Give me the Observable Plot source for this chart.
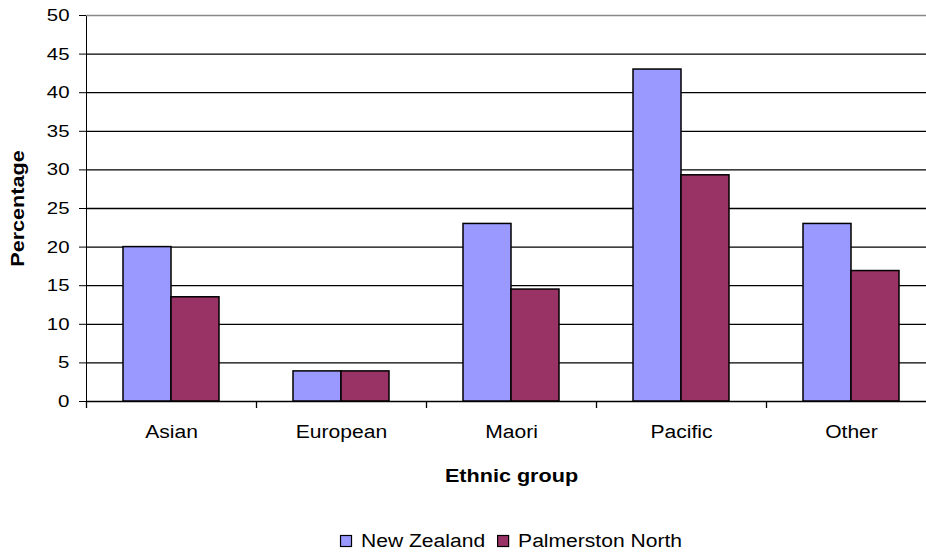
<!DOCTYPE html>
<html><head><meta charset="utf-8">
<script src="https://cdn.jsdelivr.net/npm/d3@7"></script>
<script src="https://cdn.jsdelivr.net/npm/@observablehq/plot@0.6"></script>
<style>
body{margin:0;background:#fff;font-family:"Liberation Sans",Arial,sans-serif;}
#wrap{position:relative;width:926px;height:552px;overflow:hidden;}
#legend{position:absolute;left:0;top:520px;}
</style></head><body><div id="wrap"><div id="chart"></div><div id="legend"></div></div>
<script>
const categories = ["Asian", "European", "Maori", "Pacific", "Other"];
const series = ["New Zealand", "Palmerston North"];
const newZealand = [20, 3.9, 23, 43, 23];
const palmerstonNorth = [13.5, 3.9, 14.5, 29.3, 16.9];
const yTicks = [0, 5, 10, 15, 20, 25, 30, 35, 40, 45, 50];
const colors = ["#9999ff", "#993366"];

const data = categories.flatMap((c, i) => [
  {category: c, series: series[0], value: newZealand[i]},
  {category: c, series: series[1], value: palmerstonNorth[i]}
]);

const width = 936, marginLeft = 86, marginRight = 0;
const step = (width - marginLeft - marginRight) / categories.length;

const chart = Plot.plot({
  width, height: 520, marginLeft, marginRight, marginTop: 15, marginBottom: 119,
  style: {fontFamily: "Liberation Sans, Arial, sans-serif", fontSize: "17px", color: "#000", background: "#fff"},
  fx: {domain: categories, padding: 0, label: "Ethnic group", labelArrow: "none", labelAnchor: "center", labelOffset: 80, tickSize: 0, tickPadding: 24},
  x: {domain: series, paddingInner: 0, paddingOuter: 0.735, axis: null},
  y: {domain: [0, 50], ticks: yTicks, tickSize: 7, tickPadding: 10, label: "Percentage", labelArrow: "none", labelAnchor: "center", labelOffset: 75, line: true},
  color: {domain: series, range: colors},
  marks: [
    Plot.ruleY(yTicks.filter(t => t < 50), {stroke: "#000", strokeWidth: 1.3}),
    Plot.ruleY([50], {stroke: "#888", strokeWidth: 1.3}),
    Plot.barY(data, {fx: "category", x: "series", y: "value", fill: "series", stroke: "#000", strokeWidth: 1.5}),
    Plot.ruleX([0], {x: null, dx: -step / 2, y1: 0, y2: 0, insetBottom: -7, stroke: "#000", strokeWidth: 1.3})
  ]
});
chart.style.maxWidth = "none";
document.getElementById("chart").appendChild(chart);

function stretch(t, size, k, bold) {
  t.style.fontSize = size + "px";
  if (bold) t.style.fontWeight = "bold";
  const L = t.getComputedTextLength();
  t.setAttribute("textLength", (L * k).toFixed(1));
  t.setAttribute("lengthAdjust", "spacingAndGlyphs");
}
chart.querySelectorAll("text").forEach(t => {
  const s = t.textContent.trim();
  if (categories.includes(s)) stretch(t, 18, 1.17, false);
  else if (s === "Percentage" || s === "Ethnic group") stretch(t, 18, 1.2, true);
  else stretch(t, 17, 1.2, false);
});

// legend
const lg = d3.select("#legend").append("svg").attr("width", 926).attr("height", 32)
  .style("font-family", "Liberation Sans, Arial, sans-serif").style("font-size", "18px");
const items = lg.selectAll("g").data(series).join("g");
items.append("rect").attr("width", 11).attr("height", 11).attr("y", 15.5)
  .attr("fill", (d, i) => colors[i]).attr("stroke", "#000").attr("stroke-width", 1.2);
items.append("text").attr("y", 27).attr("fill", "#000").text(d => d)
  .each(function() { const L = this.getComputedTextLength(); this.setAttribute("textLength", (L * 1.17).toFixed(1)); this.setAttribute("lengthAdjust", "spacingAndGlyphs"); this.__w = L * 1.17; });
let widths = [];
items.each(function() { widths.push(d3.select(this).select("text").node().__w); });
const sq = 12, gapA = 9, gapB = 12;
const total = widths.reduce((a, w) => a + sq + gapA + w, 0) + gapB * (widths.length - 1);
let x0 = (marginLeft + width - marginRight) / 2 - total / 2;
items.each(function(d, i) {
  const g = d3.select(this);
  g.select("rect").attr("x", x0 + 0.5);
  g.select("text").attr("x", x0 + sq + gapA);
  x0 += sq + gapA + widths[i] + gapB;
});
</script></body></html>
